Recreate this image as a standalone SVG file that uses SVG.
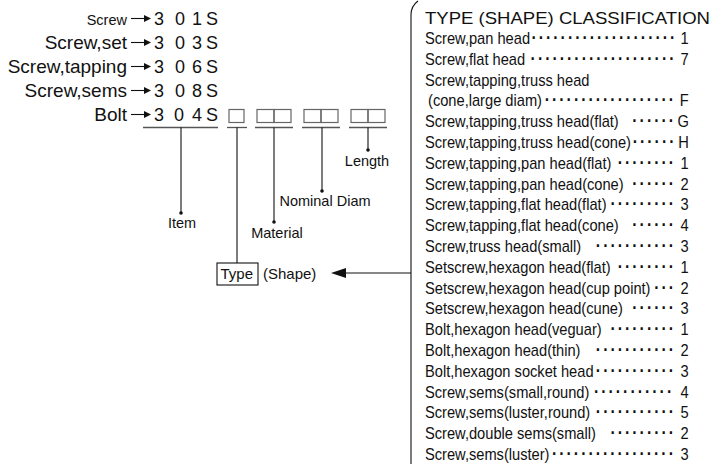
<svg xmlns="http://www.w3.org/2000/svg" width="712" height="464" viewBox="0 0 712 464">
<defs>
<style>
text{font-family:"Liberation Sans",Arial,Helvetica,sans-serif;fill:#111}
.lbl{font-size:19px;text-anchor:end}
.dig{font-size:18px}
.cap{font-size:14.5px}
.row{font-size:17px}
.d{font-size:18px;font-weight:bold;letter-spacing:2.47px}
.box{fill:none;stroke:#666;stroke-width:1.2}
.ul{stroke:#555;stroke-width:1.3}
.ln{stroke:#111;stroke-width:1.1;fill:none}
.ah{fill:#111}
</style>
</defs>
<rect width="712" height="464" fill="#fff"/>

<g id="code-screw">
<text class="lbl" x="127" y="25" style="font-size:14.5px">Screw</text>
<path class="ln" d="M131 18.5H146"/><path class="ah" d="M151 18.5l-7-3.5v7z"/>
<text class="dig" y="25"><tspan x="154">3</tspan><tspan x="175">0</tspan><tspan x="192">1</tspan><tspan x="206">S</tspan></text>
</g>
<g id="code-screw-set">
<text class="lbl" x="127" y="49">Screw,set</text>
<path class="ln" d="M131 42.5H146"/><path class="ah" d="M151 42.5l-7-3.5v7z"/>
<text class="dig" y="49"><tspan x="154">3</tspan><tspan x="175">0</tspan><tspan x="192">3</tspan><tspan x="206">S</tspan></text>
</g>
<g id="code-screw-tapping">
<text class="lbl" x="127" y="73">Screw,tapping</text>
<path class="ln" d="M131 66.5H146"/><path class="ah" d="M151 66.5l-7-3.5v7z"/>
<text class="dig" y="73"><tspan x="154">3</tspan><tspan x="175">0</tspan><tspan x="192">6</tspan><tspan x="206">S</tspan></text>
</g>
<g id="code-screw-sems">
<text class="lbl" x="127" y="97">Screw,sems</text>
<path class="ln" d="M131 90.5H146"/><path class="ah" d="M151 90.5l-7-3.5v7z"/>
<text class="dig" y="97"><tspan x="154">3</tspan><tspan x="175">0</tspan><tspan x="192">8</tspan><tspan x="206">S</tspan></text>
</g>
<g id="code-bolt">
<text class="lbl" x="127" y="121">Bolt</text>
<path class="ln" d="M131 114.5H146"/><path class="ah" d="M151 114.5l-7-3.5v7z"/>
<text class="dig" y="121"><tspan x="154">3</tspan><tspan x="174">0</tspan><tspan x="192">4</tspan><tspan x="206">S</tspan></text>
</g>

<g id="field-item"><path class="ul" d="M143 127.5H218"/></g>
<g id="field-type"><rect class="box" x="229" y="109.5" width="15" height="13"/><path class="ul" d="M227 127.5H247"/></g>
<g id="field-material"><rect class="box" x="257" y="109.5" width="17" height="13"/><rect class="box" x="274" y="109.5" width="17" height="13"/><path class="ul" d="M255 127.5H293"/></g>
<g id="field-diam"><rect class="box" x="304" y="109.5" width="17" height="13"/><rect class="box" x="321" y="109.5" width="17" height="13"/><path class="ul" d="M302 127.5H340"/></g>
<g id="field-length"><rect class="box" x="351" y="109.5" width="17" height="13"/><rect class="box" x="368" y="109.5" width="17" height="13"/><path class="ul" d="M349 127.5H387"/></g>

<g id="label-item"><text class="cap" x="182" y="228" text-anchor="middle">Item</text></g>
<g id="label-material"><text class="cap" x="277" y="238" text-anchor="middle">Material</text></g>
<g id="label-diam"><text class="cap" x="325" y="206" text-anchor="middle">Nominal Diam</text></g>
<g id="label-length"><text class="cap" x="367" y="166" text-anchor="middle">Length</text></g>
<g id="label-type">
<rect x="217" y="263" width="41" height="22" fill="none" stroke="#111" stroke-width="1.1"/>
<text x="220.5" y="279" style="font-size:15px">Type</text>
<text x="263" y="279" style="font-size:15px">(Shape)</text>
</g>

<g id="connectors">
<path class="ln" d="M181 127.5V213"/><circle class="ah" cx="181" cy="213" r="1.8"/>
<path class="ln" d="M237 127.5V263"/>
<path class="ln" d="M274 127.5V222"/><circle class="ah" cx="274" cy="222" r="1.8"/>
<path class="ln" d="M322 127.5V191"/><circle class="ah" cx="322" cy="191" r="1.8"/>
<path class="ln" d="M368 127.5V150"/><circle class="ah" cx="368" cy="150" r="1.8"/>
<path class="ln" d="M411 273H344"/><path class="ah" d="M331 273l15-5v10z"/>
</g>

<g id="type-table">
<path class="ln" d="M418 1Q411 6 411 15V464" stroke-width="1.2"/>
<text x="425" y="24" style="font-size:17px" textLength="285" lengthAdjust="spacingAndGlyphs">TYPE (SHAPE) CLASSIFICATION</text>
<g transform="translate(425 0) scale(0.862 1)">
<text class="row" y="44"><tspan x="0">Screw,pan head</tspan><tspan class="d" x="123.5">····················</tspan><tspan x="296.5">1</tspan></text>
<text class="row" y="64.8"><tspan x="0">Screw,flat head</tspan><tspan class="d" x="122.5">····················</tspan><tspan x="296.5">7</tspan></text>
<text class="row" y="85.6"><tspan x="0">Screw,tapping,truss head</tspan></text>
<text class="row" y="106.4"><tspan x="3.5">(cone,large diam)</tspan><tspan class="d" x="138.9">··················</tspan><tspan x="295.6">F</tspan></text>
<text class="row" y="127.2"><tspan x="0">Screw,tapping,truss head(flat)</tspan><tspan class="d" x="240.5">······</tspan><tspan x="292.8">G</tspan></text>
<text class="row" y="148"><tspan x="0">Screw,tapping,truss head(cone)</tspan><tspan class="d" x="241">······</tspan><tspan x="293.7">H</tspan></text>
<text class="row" y="168.8"><tspan x="0">Screw,tapping,pan head(flat)</tspan><tspan class="d" x="223.6">········</tspan><tspan x="296.5">1</tspan></text>
<text class="row" y="189.6"><tspan x="0">Screw,tapping,pan head(cone)</tspan><tspan class="d" x="240.5">······</tspan><tspan x="296.5">2</tspan></text>
<text class="row" y="210.4"><tspan x="0">Screw,tapping,flat head(flat)</tspan><tspan class="d" x="215.1">·········</tspan><tspan x="296.5">3</tspan></text>
<text class="row" y="231.2"><tspan x="0">Screw,tapping,flat head(cone)</tspan><tspan class="d" x="240.5">······</tspan><tspan x="296.5">4</tspan></text>
<text class="row" y="252"><tspan x="0">Screw,truss head(small)</tspan><tspan class="d" x="198.2">···········</tspan><tspan x="296.5">3</tspan></text>
<text class="row" y="272.8"><tspan x="0">Setscrew,hexagon head(flat)</tspan><tspan class="d" x="223.6">········</tspan><tspan x="296.5">1</tspan></text>
<text class="row" y="293.6"><tspan x="0">Setscrew,hexagon head(cup point)</tspan><tspan class="d" x="265.9">···</tspan><tspan x="296.5">2</tspan></text>
<text class="row" y="314.4"><tspan x="0">Setscrew,hexagon head(cune)</tspan><tspan class="d" x="240.5">······</tspan><tspan x="296.5">3</tspan></text>
<text class="row" y="335.2"><tspan x="0">Bolt,hexagon head(veguar)</tspan><tspan class="d" x="215.1">·········</tspan><tspan x="296.5">1</tspan></text>
<text class="row" y="356"><tspan x="0">Bolt,hexagon head(thin)</tspan><tspan class="d" x="198.2">···········</tspan><tspan x="296.5">2</tspan></text>
<text class="row" y="376.8"><tspan x="0">Bolt,hexagon socket head</tspan><tspan class="d" x="198.2">···········</tspan><tspan x="296.5">3</tspan></text>
<text class="row" y="397.6"><tspan x="0">Screw,sems(small,round)</tspan><tspan class="d" x="196">···········</tspan><tspan x="296.5">4</tspan></text>
<text class="row" y="418.4"><tspan x="0">Screw,sems(luster,round)</tspan><tspan class="d" x="198.2">···········</tspan><tspan x="296.5">5</tspan></text>
<text class="row" y="439.2"><tspan x="0">Screw,double sems(small)</tspan><tspan class="d" x="215.1">·········</tspan><tspan x="296.5">2</tspan></text>
<text class="row" y="460"><tspan x="0">Screw,sems(luster)</tspan><tspan class="d" x="147.3">·················</tspan><tspan x="296.5">3</tspan></text>
</g>
</g>
</svg>
